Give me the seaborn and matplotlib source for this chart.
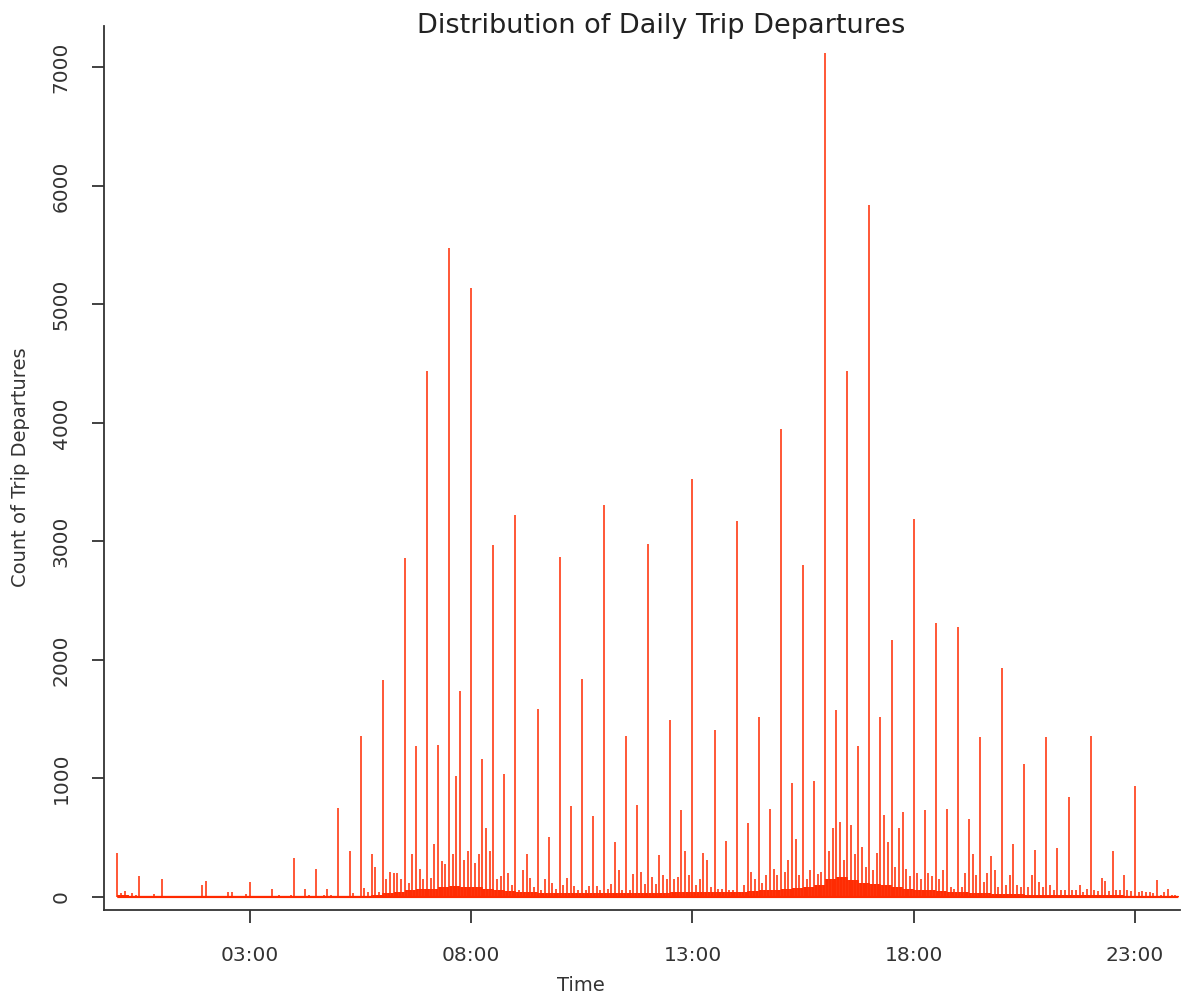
import numpy as np
import seaborn as sns
from matplotlib import pyplot as plt

# counts at each quarter hour (:00, :15, :30, :45), one row per hour
quarter_counts = [
    [373, 20, 177, 10],
    [149, 10, 5, 5],
    [137, 0, 39, 5],
    [123, 0, 64, 5],
    [325, 64, 235, 64],
    [754, 387, 1360, 362],
    [1830, 200, 2860, 1270],
    [4440, 1284, 5480, 1741],
    [5140, 1166, 2970, 1040],
    [3220, 362, 1583, 507],
    [2870, 768, 1843, 681],
    [3310, 460, 1360, 779],
    [2980, 350, 1494, 732],
    [3530, 373, 1410, 471],
    [3170, 620, 1520, 743],
    [3950, 964, 2800, 975],
    [7120, 1581, 4440, 1273],
    [5840, 1520, 2170, 718],
    [3190, 732, 2310, 743],
    [2280, 656, 1348, 348],
    [1929, 446, 1124, 398],
    [1348, 409, 841, 101],
    [1360, 163, 384, 188],
    [939, 40, 140, 65],
]

# counts at the other 5 minute marks (:05 :10 :20 :25 :35 :40 :50 :55)
five_counts = [
    [36, 50, 30, 20, 0, 0, 28, 5],
    [5, 0, 0, 0, 0, 0, 0, 101],
    [0, 0, 0, 0, 39, 5, 5, 25],
    [0, 0, 0, 0, 0, 15, 0, 15],
    [10, 0, 15, 0, 10, 15, 15, 10],
    [10, 10, 30, 10, 79, 40, 250, 40],
    [149, 213, 200, 150, 120, 362, 240, 150],
    [160, 446, 303, 275, 362, 1018, 311, 387],
    [286, 360, 583, 387, 151, 174, 199, 100],
    [60, 227, 163, 87, 60, 151, 115, 70],
    [100, 163, 90, 60, 60, 90, 90, 60],
    [70, 110, 227, 60, 60, 193, 213, 110],
    [171, 110, 188, 150, 150, 170, 384, 188],
    [100, 150, 311, 80, 70, 70, 60, 60],
    [40, 100, 213, 150, 115, 185, 235, 188],
    [213, 311, 493, 188, 150, 227, 190, 210],
    [384, 583, 631, 311, 606, 359, 420, 250],
    [227, 373, 695, 460, 250, 583, 240, 175],
    [199, 150, 200, 180, 150, 227, 87, 70],
    [80, 199, 359, 188, 130, 199, 227, 80],
    [100, 188, 100, 80, 80, 188, 130, 80],
    [100, 60, 60, 60, 60, 60, 40, 70],
    [60, 50, 137, 50, 60, 60, 60, 50],
    [40, 50, 40, 30, 20, 40, 20, 15],
]

# typical count for the remaining minutes, per 15 minute block
band_counts = [
    [15, 8, 8, 5], [3, 2, 2, 2], [2, 2, 2, 2], [2, 2, 2, 2],
    [3, 3, 4, 5], [6, 8, 12, 20], [30, 45, 55, 65], [70, 80, 90, 85],
    [80, 70, 60, 50], [45, 40, 35, 35], [30, 30, 30, 30], [30, 30, 35, 35],
    [35, 35, 40, 40], [40, 40, 45, 45], [45, 50, 55, 60], [65, 75, 85, 100],
    [150, 170, 140, 120], [110, 100, 80, 70], [60, 55, 50, 45], [40, 35, 30, 28],
    [25, 22, 20, 20], [18, 18, 18, 16], [15, 15, 14, 12], [12, 10, 10, 8],
]

tick_hours = [3, 8, 13, 18, 23]
tick_labels = ['03:00', '08:00', '13:00', '18:00', '23:00']

# build per-minute counts
counts = np.repeat(np.array(band_counts).ravel(), 15).astype(float)
five_offsets = [5, 10, 20, 25, 35, 40, 50, 55]
for h in range(24):
    for i, q in enumerate(quarter_counts[h]):
        counts[h * 60 + i * 15] = q
    for off, v in zip(five_offsets, five_counts[h]):
        counts[h * 60 + off] = v
hours = np.arange(1440) / 60.0

sns.set_style('ticks')
plt.rcParams['font.family'] = ['DejaVu Sans']

fig = plt.figure(figsize=(11.82, 9.98), dpi=100)
ax = fig.add_axes([104 / 1182, 88 / 998, 1076 / 1182, 884 / 998])

red = '#ff2a00'
ax.plot(hours, np.zeros_like(hours), color=red, linewidth=1.6, solid_capstyle='butt')
ax.vlines(hours, 0, counts, color=red, linewidth=1.1)

ax.set_xlim(-0.3, 24.02)
ax.set_ylim(-110, 7350)
ax.set_xticks(tick_hours)
ax.set_xticklabels(tick_labels)
ax.set_yticks(range(0, 7001, 1000))
for lab in ax.get_yticklabels():
    lab.set_rotation(90)
    lab.set_va('center')

ax.tick_params(axis='both', length=9, width=1.3, color='#333333',
               labelsize=14.5, labelcolor='#333333', direction='out')
ax.tick_params(axis='x', pad=17)
ax.tick_params(axis='y', pad=15)

sns.despine(ax=ax)
for s in ['left', 'bottom']:
    ax.spines[s].set_color('#333333')
    ax.spines[s].set_linewidth(1.3)

ax.set_xlabel('Time', fontsize=14, color='#333333', va='center')
ax.xaxis.set_label_coords(0.4433, -0.085)
ax.set_ylabel('Count of Trip Departures', fontsize=14, color='#333333',
              va='center', ha='center')
ax.yaxis.set_label_coords(-0.078, 0.501)
ax.text(0.5177, 1.0, 'Distribution of Daily Trip Departures', transform=ax.transAxes,
        ha='center', va='center', fontsize=19.5, color='#222222')

fig.savefig('out.png', dpi=100)
